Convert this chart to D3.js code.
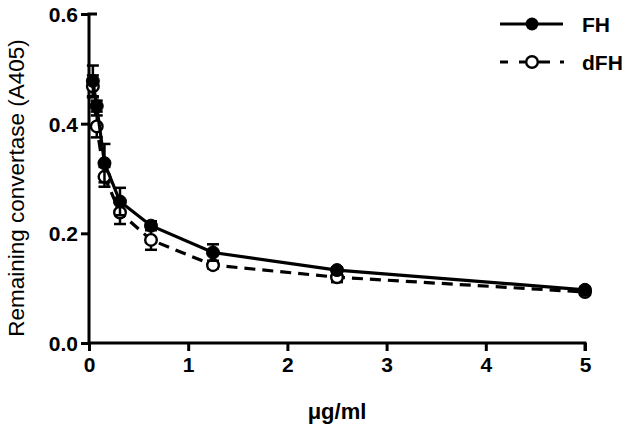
<!DOCTYPE html>
<html><head><meta charset="utf-8">
<script src="https://cdn.jsdelivr.net/npm/d3@7"></script>
<style>body{margin:0;background:#fff}svg{display:block}text{font-family:"Liberation Sans",Arial,sans-serif}</style>
</head><body>
<svg id="c" width="630" height="441"></svg>
<script>
const concentrations = [0.039, 0.078, 0.156, 0.3125, 0.625, 1.25, 2.5, 5];
const fhValues  = [0.478, 0.432, 0.328, 0.258, 0.214, 0.165, 0.133, 0.097];
const fhErrors  = [0.028, 0.010, 0.035, 0.025, 0.008, 0.015, 0.005, 0.004];
const dfhValues = [0.468, 0.395, 0.303, 0.238, 0.188, 0.142, 0.120, 0.093];
const dfhErrors = [0.020, 0.020, 0.018, 0.021, 0.018, 0.006, 0.009, 0.004];
const xTicks = [0, 1, 2, 3, 4, 5];
const yTicks = [0.0, 0.2, 0.4, 0.6];
const seriesNames = ["FH", "dFH"];

const svg = d3.select("#c");
const x = d3.scaleLinear().domain([0, 5]).range([89, 585]);
const y = d3.scaleLinear().domain([0, 0.6]).range([343, 14]);

const xAxis = svg.append("g").attr("transform", `translate(0,${y(0)})`)
  .call(d3.axisBottom(x).tickValues(xTicks).tickFormat(d3.format("d")).tickSize(8).tickSizeOuter(0));
const yAxis = svg.append("g").attr("transform", `translate(${x(0)},0)`)
  .call(d3.axisLeft(y).tickValues(yTicks).tickFormat(d3.format(".1f")).tickSize(8).tickSizeOuter(0));
[xAxis, yAxis].forEach(a => {
  a.select(".domain").attr("stroke", "#000").attr("stroke-width", 3);
  a.selectAll(".tick line").attr("stroke", "#000").attr("stroke-width", 3);
  a.selectAll(".tick text").attr("fill", "#000").attr("font-size", 21).attr("font-weight", "bold");
});
xAxis.selectAll(".tick text").attr("y", 12).attr("dy", "0.8em");
yAxis.selectAll(".tick text").attr("x", -11).attr("dy", "0.36em");
yAxis.select(".domain").attr("d", `M0,${y(0)+1.5}V${y(0.6)}H8`);
xAxis.select(".domain").attr("d", `M${x(0)},0H${x(5)}V8`);

svg.append("text").attr("x", 337).attr("y", 419).attr("text-anchor", "middle")
  .attr("font-size", 22).attr("font-weight", "bold").text("μg/ml");
svg.append("text").attr("transform", "translate(24,188) rotate(-90)").attr("text-anchor", "middle")
  .attr("font-size", 22.5).text("Remaining convertase (A405)");

const line = d3.line().x(d => x(d[0])).y(d => y(d[1]));
function drawSeries(vals, errs, dashed, open) {
  const pts = concentrations.map((c, i) => [c, vals[i], errs[i]]);
  const g = svg.append("g");
  pts.forEach(p => {
    const cx = x(p[0]);
    g.append("line").attr("x1", cx).attr("x2", cx).attr("y1", y(p[1] - p[2])).attr("y2", y(p[1] + p[2]))
      .attr("stroke", "#000").attr("stroke-width", 2.5);
    [p[1] - p[2], p[1] + p[2]].forEach(v => g.append("line").attr("x1", cx - 6).attr("x2", cx + 6)
      .attr("y1", y(v)).attr("y2", y(v)).attr("stroke", "#000").attr("stroke-width", 2.5));
  });
  g.append("path").datum(pts).attr("d", line).attr("fill", "none").attr("stroke", "#000")
    .attr("stroke-width", 3.2).attr("stroke-dasharray", dashed ? "11,7" : null);
  g.selectAll("circle").data(pts).join("circle").attr("cx", d => x(d[0])).attr("cy", d => y(d[1]))
    .attr("r", open ? 5.8 : 6.5).attr("fill", open ? "#fff" : "#000").attr("stroke", "#000").attr("stroke-width", open ? 2.4 : 1);
}
drawSeries(dfhValues, dfhErrors, true, true);
drawSeries(fhValues, fhErrors, false, false);

const lg = svg.append("g");
lg.append("line").attr("x1", 500).attr("x2", 563).attr("y1", 24).attr("y2", 24).attr("stroke", "#000").attr("stroke-width", 3.2);
lg.append("circle").attr("cx", 532).attr("cy", 24).attr("r", 6.5).attr("fill", "#000");
lg.append("text").attr("x", 582).attr("y", 32).attr("font-size", 21).attr("font-weight", "bold").text(seriesNames[0]);
lg.append("line").attr("x1", 500).attr("x2", 564).attr("y1", 62).attr("y2", 62).attr("stroke", "#000").attr("stroke-width", 3.2)
  .attr("stroke-dasharray", "8,11,31,10,4,20");
lg.append("circle").attr("cx", 532).attr("cy", 62).attr("r", 5.8).attr("fill", "#fff").attr("stroke", "#000").attr("stroke-width", 2.4);
lg.append("text").attr("x", 582).attr("y", 70).attr("font-size", 21).attr("font-weight", "bold").text(seriesNames[1]);
</script>
</body></html>
